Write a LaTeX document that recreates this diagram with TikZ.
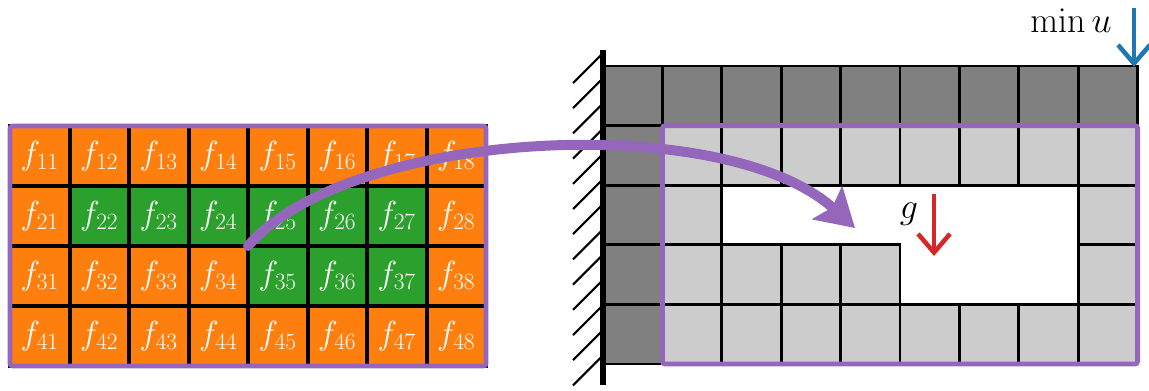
\documentclass[tikz,border=0pt]{standalone}
\usepackage{fix-cm}
\usetikzlibrary{arrows.meta}
\definecolor{forange}{HTML}{FF7F0E}
\definecolor{fgreen}{HTML}{2CA02C}
\definecolor{fpurple}{HTML}{9467BD}
\definecolor{fblue}{HTML}{1F77B4}
\definecolor{fred}{HTML}{D62728}
\definecolor{dgray}{HTML}{808080}
\definecolor{lgray}{HTML}{CCCCCC}
\tikzset{
  fcell/.style={draw=black, line width=3pt, outer sep=0pt, inner sep=0pt,
    minimum width=44.625pt, minimum height=45pt, text=white,
    font=\fontsize{25}{30}\selectfont},
  scell/.style={draw=black, line width=2pt, outer sep=0pt, inner sep=0pt,
    minimum width=44.55pt, minimum height=44.7pt},
  purplebox/.style={draw=fpurple, line width=3.6pt, rounded corners=2pt},
  loadarrow/.style={line width=3.4pt, -{Straight Barb[length=14pt,width=24pt]}},
  lbl/.style={font=\fontsize{27}{32}\selectfont, inner sep=0pt},
}
\begin{document}
\begin{tikzpicture}[x=0.75pt,y=-0.75pt]
\useasboundingbox (0,0) rectangle (1149,390);
% left grid of design variables
\foreach \r in {1,...,4}{
  \foreach \c in {1,...,8}{
    \pgfmathtruncatemacro\g{((\r==2)&&(\c>=2)&&(\c<=7))||((\r==3)&&(\c>=5)&&(\c<=7))}
    \ifnum\g=1 \def\col{fgreen}\else\def\col{forange}\fi
    \node[fcell, fill=\col] (f\r\c) at ({10+(\c-0.5)*59.5},{126+(\r-0.5)*60}) {$f_{\r\c}$};
  }
}
\draw[purplebox] (f11.north west) rectangle (f48.south east);
% right structure
\foreach \r in {1,...,5}{
  \foreach \c in {1,...,9}{
    \pgfmathtruncatemacro\d{(\r==1)||(\c==1)}
    \pgfmathtruncatemacro\e{((\r==3)&&(\c>=3)&&(\c<=8))||((\r==4)&&(\c>=6)&&(\c<=8))}
    \ifnum\d=1
      \node[scell, fill=dgray] (s\r\c) at ({603+(\c-0.5)*59.4},{66+(\r-0.5)*59.6}) {};
    \else\ifnum\e=0
      \node[scell, fill=lgray] (s\r\c) at ({603+(\c-0.5)*59.4},{66+(\r-0.5)*59.6}) {};
    \fi\fi
  }
}
\draw[purplebox] (s22.north west) rectangle (s59.south east);
% wall
\coordinate (wtop) at (603,50);
\coordinate (wbot) at (603,385);
\foreach \k in {0,...,12}{
  \draw[line width=1.6pt] (603,{53+25.2*\k}) -- (573,{83+25.2*\k});
}
\draw[line width=3.8pt] (wtop) -- (wbot);
% mapping arrow
\coordinate (tip) at (855,228);
\draw[fpurple, line width=7.5pt, line cap=round,
  -{Stealth[length=28pt,width=33pt,inset=5pt]}]
  (f24.south east) .. controls (350,128) and (725,110) .. (tip);
% objective
\node[lbl] (minu) at (1071,21) {$\min u$};
\coordinate (ubot) at (1134,8);
\coordinate (utop) at (1134,67);
\draw[loadarrow, fblue] (ubot) -- (utop);
% gravity
\node[lbl] (g) at (909,214) {$g$};
\coordinate (gtop) at (934,194);
\coordinate (gbot) at (934,256);
\draw[loadarrow, fred] (gtop) -- (gbot);
\end{tikzpicture}
\end{document}
